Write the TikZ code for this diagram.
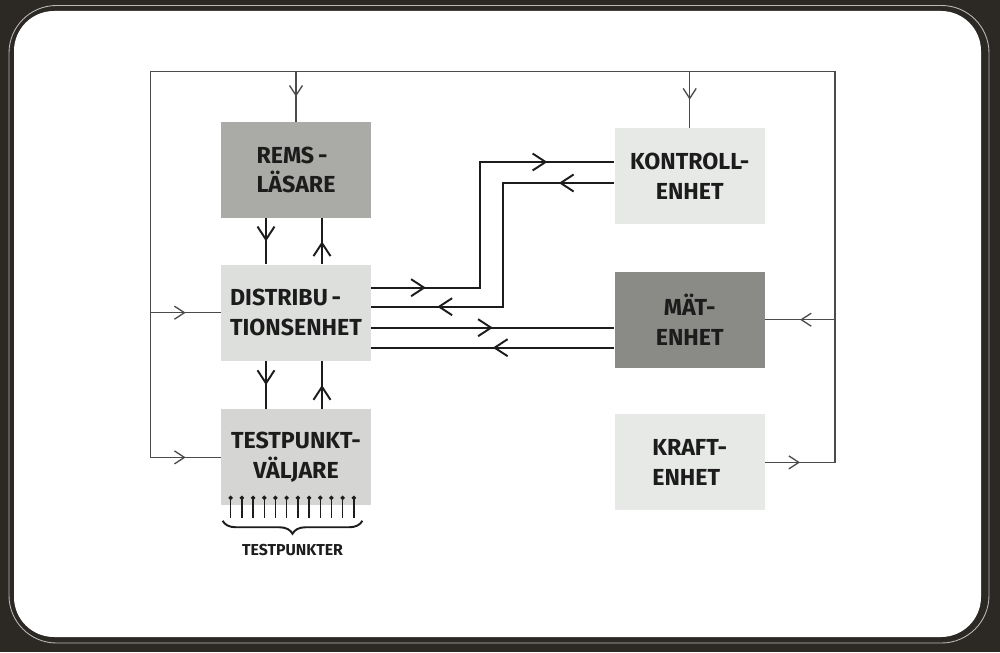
\documentclass[tikz,border=0pt]{standalone}
\usepackage{fontspec}
\setmainfont{Fira Sans}
\usepackage{tikz}
\usetikzlibrary{positioning}
\usetikzlibrary{arrows.meta,decorations.markings,decorations.pathreplacing}

\definecolor{framedark}{RGB}{44,41,37}
\definecolor{remsfill}{RGB}{170,170,167}
\definecolor{matfill}{RGB}{138,138,135}
\definecolor{distfill}{RGB}{221,223,221}
\definecolor{tpvfill}{RGB}{213,213,211}
\definecolor{palefill}{RGB}{231,233,231}
\definecolor{inkblack}{RGB}{28,28,28}
\definecolor{railgray}{RGB}{75,75,75}

\tikzset{
	block/.style={minimum width=3cm, minimum height=1.92cm, inner sep=0pt, align=center,
		text=inkblack, font=\bfseries\fontsize{13.2}{17}\selectfont},
	sig/.style={draw=inkblack, line width=1.1pt, >={Straight Barb[length=0.26cm,width=0.34cm]}},
	rail/.style={draw=railgray, line width=0.75pt, >={Straight Barb[length=0.2cm,width=0.26cm]}},
	arr/.style={postaction={decorate, decoration={markings, mark=at position #1 with {\arrow{>}}}}},
	probe/.style={draw=inkblack, line width=0.75pt, -{Circle[length=2.4pt]}},
	tpbrace/.style={draw=inkblack, line width=1.1pt, decorate, decoration={brace, mirror, amplitude=0.26cm}},
}

\begin{document}
\begin{tikzpicture}
		% slide frame
		\fill[framedark] (0,0) rectangle (20,13.04);
		\fill[white, rounded corners=0.8cm] (0.28,0.30) rectangle (19.62,12.82);
		\draw[gray!55, line width=0.5pt, rounded corners=0.95cm] (0.18,0.18) rectangle (19.78,12.93);

		\node[block, fill=remsfill, align=left] (rems) at (5.92,9.64) {REMS\,-\\LÄSARE};
		\node[block, fill=distfill, align=left] (dist) [below = 0.92cm of rems] {DISTRIBU\,-\\TIONSENHET};
		\node[block, fill=tpvfill] (tpv) [below = 0.96cm of dist] {TESTPUNKT-\\VÄLJARE};

		\node[block, fill=palefill] (kontroll) [right = 4.86cm of rems, yshift=-0.12cm] {KONTROLL-\\ENHET};
		\node[block, fill=matfill] (mat) [below = 0.94cm of kontroll] {MÄT-\\ENHET};
		\node[block, fill=palefill, align=left] (kraft) [below = 0.92cm of mat] {KRAFT-\\ENHET};

		% supply rails
		\coordinate (railtl) at ([xshift=-1.4cm, yshift=1cm]rems.north west);
		\path (kontroll.east |- railtl) ++(1.4,0) coordinate (railtr);

		\draw[rail, arr=0.7cm, arr=-0.7cm] (kraft.east) -- (kraft.east -| railtr) -- (railtr) -- (railtl) -- (railtl |- tpv.west) -- (tpv.west);
		\draw[rail, arr=0.5] (rems.north |- railtl) -- (rems.north);
		\draw[rail, arr=0.5] (kontroll.north |- railtl) -- (kontroll.north);
		\draw[rail, arr=0.5] (railtl |- dist.west) -- (dist.west);
		\draw[rail, arr=0.5] (railtr |- mat.east) -- (mat.east);

		% signals
		\draw[sig, arr=0.5] ([xshift=-0.6cm]rems.south) -- ([xshift=-0.6cm]dist.north);
		\draw[sig, arr=0.5] ([xshift=0.52cm]dist.north) -- ([xshift=0.52cm]rems.south);
		\draw[sig, arr=0.5] ([xshift=-0.6cm]dist.south) -- ([xshift=-0.6cm]tpv.north);
		\draw[sig, arr=0.5] ([xshift=0.52cm]tpv.north) -- ([xshift=0.52cm]dist.south);

		\draw[sig, arr=1.09cm, arr=-1.34cm] ([yshift=0.5cm]dist.east) -- ++(2.18,0) |- ([yshift=0.28cm]kontroll.west);
		\draw[sig, arr=1.11cm, arr=-1.32cm] ([yshift=-0.14cm]kontroll.west) -- ++(-2.22,0) |- ([yshift=0.12cm]dist.east);

		\coordinate (d3) at ([yshift=-0.3cm]dist.east);
		\coordinate (d4) at ([yshift=-0.7cm]dist.east);
		\draw[sig, arr=0.5] (d3) -- (d3 -| mat.west);
		\draw[sig, arr=0.5] (d4 -| mat.west) -- (d4);

		% test points
		\foreach \i in {0,...,11}
			\draw[probe] ([xshift=0.2cm+\i*0.224cm, yshift=-0.24cm]tpv.south west) -- ++(0,0.44);
		\draw[tpbrace] ([xshift=0.04cm, yshift=-0.3cm]tpv.south west) -- ([xshift=-0.18cm, yshift=-0.3cm]tpv.south east)
			node[midway, below=0.34cm, text=inkblack, font=\bfseries\fontsize{9}{11}\selectfont] (tplabel) {TESTPUNKTER};
\end{tikzpicture}
\end{document}
